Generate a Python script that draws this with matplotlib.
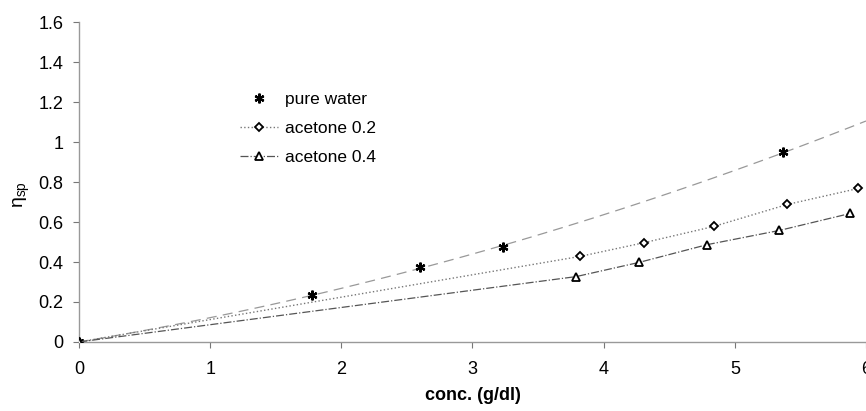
import matplotlib.pyplot as plt
import numpy as np

plt.rcParams['font.family'] = ['Liberation Sans', 'DejaVu Sans']

# pure water
x_water = [0, 1.78, 2.60, 3.23, 5.37]
y_water = [0, 0.235, 0.373, 0.477, 0.948]
# acetone 0.2
x_ac2 = [0, 3.82, 4.31, 4.84, 5.40, 5.94]
y_ac2 = [0, 0.428, 0.497, 0.578, 0.688, 0.768]
# acetone 0.4
x_ac4 = [0, 3.79, 4.27, 4.79, 5.34, 5.88]
y_ac4 = [0, 0.327, 0.398, 0.487, 0.558, 0.643]

xticks = [0, 1, 2, 3, 4, 5, 6]
yticks = [0, 0.2, 0.4, 0.6, 0.8, 1, 1.2, 1.4, 1.6]
yticklabels = ["0", "0.2", "0.4", "0.6", "0.8", "1", "1.2", "1.4", "1.6"]

fig = plt.figure(figsize=(8.66, 4.11), dpi=100)
ax = fig.add_axes([0.0912, 0.168, 0.9088, 0.778])

# trendline for pure water: y = a*x + b*x^2 through the origin
xw = np.array(x_water)
A = np.vstack([xw, xw**2]).T
coef = np.linalg.lstsq(A, np.array(y_water), rcond=None)[0]
xs = np.linspace(0, 6, 100)
ax.plot(xs, coef[0]*xs + coef[1]*xs**2, color="#999999", lw=0.9,
        linestyle=(0, (8, 5)), zorder=1)

ax.plot(x_water, y_water, linestyle="none", marker=(6, 2, 0), ms=7,
        mew=1.6, color="black", label="pure water", zorder=3)
ax.plot(x_ac2, y_ac2, linestyle=":", lw=1, color="#777777", marker="D", ms=4.5,
        mfc="white", mec="black", mew=1.3, label="acetone 0.2", zorder=3)
ax.plot(x_ac4, y_ac4, linestyle="-.", lw=0.9, color="#555555", marker="^", ms=6,
        mfc="white", mec="black", mew=1.3, label="acetone 0.4", zorder=3)

ax.set_xlim(0, 6)
ax.set_ylim(0, 1.6)
ax.set_xticks(xticks)
ax.set_yticks(yticks)
ax.set_yticklabels(yticklabels)
ax.tick_params(labelsize=13, colors="black", length=4, width=0.8)
ax.tick_params(axis="both", color="#777777")
ax.tick_params(axis="x", pad=10)
ax.tick_params(axis="y", pad=7)

for s in ["top", "right"]:
    ax.spines[s].set_visible(False)
for s in ["left", "bottom"]:
    ax.spines[s].set_color("#999999")
    ax.spines[s].set_linewidth(1)

ax.set_xlabel("conc. (g/dl)", fontsize=13, fontweight="bold", labelpad=6)
ax.set_ylabel(r"η$_{\mathregular{sp}}$", fontsize=14)
ax.yaxis.set_label_coords(-0.06, 0.46)

ax.legend(loc="upper left", bbox_to_anchor=(0.185, 0.83), frameon=False,
          fontsize=12.5, handlelength=2.2, labelspacing=0.8, handletextpad=0.4)

fig.savefig("out.png", dpi=100)
